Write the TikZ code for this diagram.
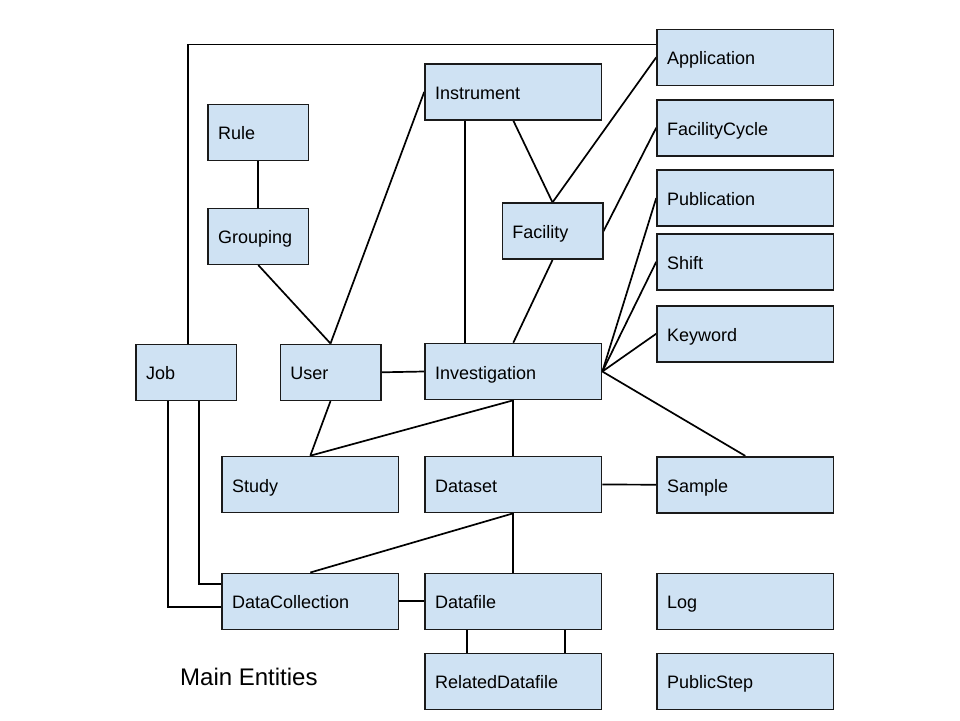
\documentclass[tikz,border=0pt]{standalone}
\usepackage{fontspec}
\setmainfont{Liberation Sans}
\usetikzlibrary{backgrounds}
\definecolor{boxblue}{HTML}{CFE2F3}
\definecolor{edgecol}{HTML}{1A1A1A}
\begin{document}
\begin{tikzpicture}[x=1pt,y=-1pt,
  ent/.style={draw=edgecol, fill=boxblue, line width=1.6pt, rectangle,
    inner xsep=10pt, inner ysep=0pt, align=left, minimum height=56pt,
    text height=15pt, text depth=0pt,
    font=\fontsize{18}{21}\selectfont},
  wide/.style={ent, text width=156.5pt},
  narrow/.style={ent, text width=80.4pt},
  conn/.style={draw=black, line width=1.7pt}]
\useasboundingbox (0,0) rectangle (960,720);

% nodes
\node[wide] (app) at (745.3,57.3) {Application};
\node[wide] (instr) at (513.3,91.8) {Instrument};
\node[narrow] (rule) at (258.3,132.3) {Rule};
\node[wide] (fcycle) at (745.3,127.7) {FacilityCycle};
\node[narrow] (fac) at (552.5,231.2) {Facility};
\node[narrow] (grp) at (258.3,236.3) {Grouping};
\node[wide] (pub) at (745.3,198) {Publication};
\node[wide] (shift) at (745.3,261.8) {Shift};
\node[wide] (kw) at (745.3,333.7) {Keyword};
\node[narrow] (job) at (186.3,372.3) {Job};
\node[narrow] (user) at (330.5,372.3) {User};
\node[wide] (inv) at (513.3,371.5) {Investigation};
\node[wide] (study) at (310.3,484.5) {Study};
\node[wide] (ds) at (513.3,484.5) {Dataset};
\node[wide] (sample) at (745.3,484.7) {Sample};
\node[wide] (dc) at (310.3,601.3) {DataCollection};
\node[wide] (df) at (513.3,601.3) {Datafile};
\node[wide] (log) at (745.3,601.3) {Log};
\node[wide] (rdf) at (513.3,681.3) {RelatedDatafile};
\node[wide] (pstep) at (745.3,681.3) {PublicStep};
\node[anchor=base west, inner sep=0pt, font=\fontsize{24}{28}\selectfont] (title) at (180,685) {Main Entities};

% helper coordinates
\coordinate (topy) at (188,44.5);
\coordinate (ix) at (465,0);
\coordinate (j1) at (167.7,606.7);
\coordinate (j2) at (198.7,584);
\coordinate (r1) at (466.7,0);
\coordinate (r2) at (565,0);

% connectors (drawn behind boxes)
\begin{scope}[on background layer]
\path[conn] (rule.south) -- (grp.north);
\path[conn] (grp.south) -- (user.north);
\path[conn] (instr.west) -- (user.north);
\path[conn] (instr.south -| ix) -- (inv.north -| ix);
\path[conn] (instr.south) -- (fac.north);
\path[conn] (app.west) -- (fac.north);
\path[conn] (fcycle.west) -- (fac.east);
\path[conn] (fac.south) -- (inv.north);
\path[conn] (inv.east) -- (pub.west);
\path[conn] (inv.east) -- (shift.west);
\path[conn] (inv.east) -- (kw.west);
\path[conn] (inv.east) -- (sample.north);
\path[conn] (user.east) -- (inv.west);
\path[conn] (user.south) -- (study.north);
\path[conn] (inv.south) -- (study.north);
\path[conn] (inv.south) -- (ds.north);
\path[conn] (ds.east) -- (sample.west);
\path[conn] (ds.south) -- (dc.north);
\path[conn] (ds.south) -- (df.north);
\path[conn] (dc.east) -- (df.west);
\path[conn] (job.north -| topy) -- (topy) -- (app.west |- topy);
\path[conn] (job.south -| j1) -- (j1) -- (dc.west |- j1);
\path[conn] (job.south -| j2) -- (j2) -- (dc.west |- j2);
\path[conn] (df.south -| r1) -- (rdf.north -| r1);
\path[conn] (df.south -| r2) -- (rdf.north -| r2);
\end{scope}
\end{tikzpicture}
\end{document}
